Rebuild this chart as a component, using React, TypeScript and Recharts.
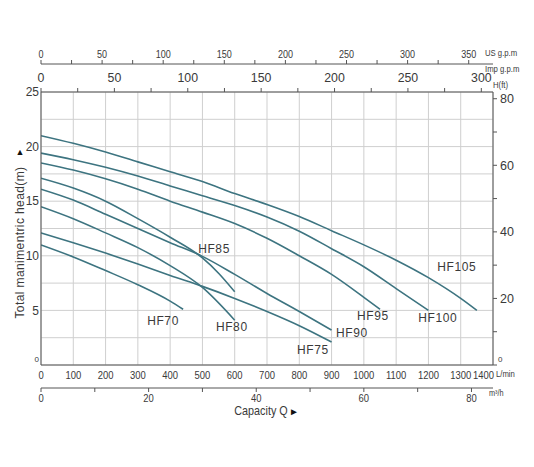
import React from "react";
import {
  LineChart,
  Line,
  XAxis,
  YAxis,
  CartesianGrid,
  ReferenceDot,
  Label,
} from "recharts";

// pump curves: capacity q (L/min) against head h (m)
const hf105 = [
  { q: 0, h: 21.0 }, { q: 100, h: 20.3 }, { q: 200, h: 19.5 }, { q: 300, h: 18.6 },
  { q: 400, h: 17.7 }, { q: 500, h: 16.8 }, { q: 600, h: 15.7 }, { q: 700, h: 14.7 },
  { q: 800, h: 13.6 }, { q: 900, h: 12.3 }, { q: 1000, h: 11.0 }, { q: 1100, h: 9.6 },
  { q: 1200, h: 8.0 }, { q: 1300, h: 6.1 }, { q: 1350, h: 5.0 },
];
const hf100 = [
  { q: 0, h: 19.4 }, { q: 100, h: 18.8 }, { q: 200, h: 18.1 }, { q: 300, h: 17.3 },
  { q: 400, h: 16.4 }, { q: 500, h: 15.5 }, { q: 600, h: 14.6 }, { q: 700, h: 13.55 },
  { q: 800, h: 12.25 }, { q: 900, h: 10.65 }, { q: 1000, h: 9.0 }, { q: 1100, h: 7.0 },
  { q: 1200, h: 5.0 },
];
const hf95 = [
  { q: 0, h: 18.5 }, { q: 100, h: 17.85 }, { q: 200, h: 17.05 }, { q: 300, h: 16.1 },
  { q: 400, h: 15.0 }, { q: 500, h: 14.0 }, { q: 600, h: 12.95 }, { q: 700, h: 11.6 },
  { q: 800, h: 10.0 }, { q: 900, h: 8.3 }, { q: 1000, h: 6.2 }, { q: 1050, h: 5.1 },
];
const hf90 = [
  { q: 0, h: 16.1 }, { q: 100, h: 15.1 }, { q: 200, h: 13.8 }, { q: 300, h: 12.5 },
  { q: 400, h: 11.2 }, { q: 500, h: 9.95 }, { q: 600, h: 8.3 }, { q: 700, h: 6.55 },
  { q: 800, h: 4.9 }, { q: 900, h: 3.2 },
];
const hf85 = [
  { q: 0, h: 17.1 }, { q: 100, h: 16.2 }, { q: 200, h: 15.0 }, { q: 300, h: 13.4 },
  { q: 400, h: 11.7 }, { q: 500, h: 9.8 }, { q: 550, h: 8.4 }, { q: 600, h: 6.7 },
];
const hf80 = [
  { q: 0, h: 14.5 }, { q: 100, h: 13.4 }, { q: 200, h: 12.1 }, { q: 300, h: 10.75 },
  { q: 400, h: 9.1 }, { q: 500, h: 7.1 }, { q: 600, h: 4.1 },
];
const hf75 = [
  { q: 0, h: 12.1 }, { q: 100, h: 11.2 }, { q: 200, h: 10.25 }, { q: 300, h: 9.25 },
  { q: 400, h: 8.2 }, { q: 500, h: 7.2 }, { q: 600, h: 6.1 }, { q: 700, h: 4.9 },
  { q: 800, h: 3.6 }, { q: 900, h: 2.1 },
];
const hf70 = [
  { q: 0, h: 11.0 }, { q: 100, h: 9.9 }, { q: 200, h: 8.65 }, { q: 300, h: 7.35 },
  { q: 400, h: 5.85 }, { q: 440, h: 5.1 },
];

const pumpCurves = [
  { name: "HF105", points: hf105 },
  { name: "HF100", points: hf100 },
  { name: "HF95", points: hf95 },
  { name: "HF90", points: hf90 },
  { name: "HF85", points: hf85 },
  { name: "HF80", points: hf80 },
  { name: "HF75", points: hf75 },
  { name: "HF70", points: hf70 },
];

// where each curve name sits (q, h)
const curveLabels = [
  { name: "HF105", q: 1288, h: 9.0 },
  { name: "HF100", q: 1229, h: 4.3 },
  { name: "HF95", q: 1028, h: 4.5 },
  { name: "HF90", q: 963, h: 2.9 },
  { name: "HF85", q: 536, h: 10.6 },
  { name: "HF80", q: 591, h: 3.5 },
  { name: "HF75", q: 842, h: 1.4 },
  { name: "HF70", q: 378, h: 4.0 },
];

const lminTicks = [0, 100, 200, 300, 400, 500, 600, 700, 800, 900, 1000, 1100, 1200, 1300, 1400];
const m3hTicks = [0, 10, 20, 30, 40, 50, 60, 70, 80];
const usTicks = [0, 25, 50, 75, 100, 125, 150, 175, 200, 225, 250, 275, 300, 325, 350];
const impTicks = [0, 25, 50, 75, 100, 125, 150, 175, 200, 225, 250, 275, 300];
const headTicks = [0, 2.5, 5, 7.5, 10, 12.5, 15, 17.5, 20, 22.5, 25];
const ftTicks = [0, 10, 20, 30, 40, 50, 60, 70, 80];

const QMAX = 1400;
const HMAX = 25;
const US_MAX = QMAX / 3.785;
const IMP_MAX = QMAX / 4.546;
const M3H_MAX = (QMAX * 60) / 1000;

// end points so the extra capacity scales have a range to span
const usSpan = [{ x: 0, h: 0 }, { x: US_MAX, h: 0 }];
const impSpan = [{ x: 0, h: 0 }, { x: IMP_MAX, h: 0 }];
const m3hSpan = [{ x: 0, h: 0 }, { x: M3H_MAX, h: 0 }];

const TEXT = "#3a3a3a";
const AXIS = "#555";
const GRID = "#cfcfcf";
const CURVE = "#3d7480";
const SANS = "'Liberation Sans', Arial, sans-serif";

// condensed look like the printed sheet
const Narrow = ({ x, y, anchor, size, squeeze = 0.86, dy, children }: any) => (
  <text
    x={0}
    y={0}
    dy={dy}
    transform={`translate(${x} ${y}) scale(${squeeze} 1)`}
    textAnchor={anchor}
    fontSize={size}
    fill={TEXT}
    fontFamily={SANS}
  >
    {children}
  </text>
);

const usTick = (p: any) => {
  const v = p.payload.value;
  if (v % 50 !== 0) return <g />;
  return <Narrow x={p.x} y={p.y} anchor="middle" size={10.5}>{v}</Narrow>;
};

const impTick = (p: any) => {
  const v = p.payload.value;
  if (v % 50 !== 0) return <g />;
  return <Narrow x={p.x} y={p.y} anchor="middle" size={13} squeeze={0.95}>{v}</Narrow>;
};

const lminTick = (p: any) => {
  const v = p.payload.value;
  if (v === 1400) {
    return (
      <g>
        <Narrow x={p.x + 1} y={p.y} dy="0.71em" anchor="end" size={11}>1400</Narrow>
        <Narrow x={p.x + 3} y={p.y} dy="0.71em" anchor="start" size={9}>L/min</Narrow>
      </g>
    );
  }
  return <Narrow x={p.x} y={p.y} dy="0.71em" anchor="middle" size={11}>{v}</Narrow>;
};

const m3hTick = (p: any) => {
  const v = p.payload.value;
  if (v % 20 !== 0) return <g />;
  return <Narrow x={p.x} y={p.y} dy="0.71em" anchor="middle" size={11}>{v}</Narrow>;
};

const headTick = (p: any) => {
  const v = p.payload.value;
  if (v % 5 !== 0) return <g />;
  if (v === 0) {
    return (
      <text x={p.x} y={p.y - 3} textAnchor="end" fontSize={8} fill={TEXT} fontFamily={SANS}>
        0
      </text>
    );
  }
  return (
    <text x={p.x} y={p.y} dy="0.355em" textAnchor="end" fontSize={12} fill={TEXT} fontFamily={SANS}>
      {v}
    </text>
  );
};

const ftTick = (p: any) => {
  const v = p.payload.value;
  if (v % 20 !== 0) return <g />;
  if (v === 0) {
    return (
      <text x={p.x - 2} y={p.y - 3} textAnchor="start" fontSize={8} fill={TEXT} fontFamily={SANS}>
        0
      </text>
    );
  }
  return (
    <text x={p.x} y={p.y} dy="0.355em" textAnchor="start" fontSize={12.5} fill={TEXT} fontFamily={SANS}>
      {v}
    </text>
  );
};

const headTitle = (props: any) => {
  const vb = props.viewBox;
  const cx = vb.x + 20;
  const cy = vb.y + vb.height / 2 + 14;
  return (
    <g>
      <text
        x={cx}
        y={cy}
        transform={`rotate(-90 ${cx} ${cy})`}
        textAnchor="middle"
        dominantBaseline="central"
        fontSize={12}
        letterSpacing={0.4}
        fill={TEXT}
        fontFamily={SANS}
      >
        Total manimentric head(m)
      </text>
      <text x={cx} y={vb.y + 63} textAnchor="middle" fontSize={9} fill="#111" fontFamily={SANS}>
        ▲
      </text>
    </g>
  );
};

const capacityTitle = (props: any) => {
  const vb = props.viewBox;
  const cx = vb.x + vb.width / 2;
  return (
    <g>
      <Narrow x={cx - 6} y={vb.y + 27} anchor="middle" size={12} squeeze={0.9}>
        Capacity Q
      </Narrow>
      <text x={cx + 22} y={vb.y + 27} textAnchor="start" fontSize={10} fill="#111" fontFamily={SANS}>
        ►
      </text>
      <Narrow x={vb.x + vb.width - 4} y={vb.y + 8} anchor="start" size={8.5}>
        m³/h
      </Narrow>
    </g>
  );
};

const usUnit = (props: any) => {
  const vb = props.viewBox;
  return (
    <Narrow x={vb.x + vb.width - 8} y={vb.y + vb.height - 8} anchor="start" size={9}>
      US g.p.m
    </Narrow>
  );
};

const impUnit = (props: any) => {
  const vb = props.viewBox;
  return (
    <Narrow x={vb.x + vb.width - 8} y={vb.y + 8} anchor="start" size={9}>
      Imp g.p.m
    </Narrow>
  );
};

const ftUnit = (props: any) => {
  const vb = props.viewBox;
  return (
    <Narrow x={vb.x} y={vb.y - 4} anchor="start" size={9}>
      H(ft)
    </Narrow>
  );
};

const nameLabel = (name: string) => (p: any) => (
  <text
    x={p.cx}
    y={p.cy}
    textAnchor="middle"
    dominantBaseline="central"
    fontSize={12}
    letterSpacing={0.6}
    fill={TEXT}
    fontFamily={SANS}
  >
    {name}
  </text>
);

export default function App() {
  return (
    <div style={{ position: "absolute", left: 0, top: 0, width: 534, height: 467, background: "#fff" }}>
      <LineChart width={534} height={467} margin={{ top: 44, right: 0, bottom: 44, left: 0 }}>
        <CartesianGrid xAxisId="lmin" yAxisId="m" stroke={GRID} strokeWidth={1} />

        <XAxis
          xAxisId="lmin"
          dataKey="q"
          type="number"
          domain={[0, QMAX]}
          allowDataOverflow
          ticks={lminTicks}
          interval={0}
          height={23}
          tickSize={0}
          tickMargin={6}
          tickLine={false}
          axisLine={{ stroke: AXIS }}
          tick={lminTick}
        />
        <XAxis
          xAxisId="m3h"
          dataKey="x"
          type="number"
          domain={[0, M3H_MAX]}
          allowDataOverflow
          ticks={m3hTicks}
          interval={0}
          height={35}
          tickSize={4}
          tickMargin={2}
          tickLine={{ stroke: AXIS }}
          axisLine={{ stroke: AXIS }}
          tick={m3hTick}
        >
          <Label content={capacityTitle} />
        </XAxis>
        <XAxis
          xAxisId="imp"
          dataKey="x"
          orientation="top"
          type="number"
          domain={[0, IMP_MAX]}
          allowDataOverflow
          ticks={impTicks}
          interval={0}
          height={28}
          tickSize={4}
          tickMargin={6}
          tickLine={{ stroke: AXIS }}
          axisLine={{ stroke: AXIS }}
          tick={impTick}
        >
          <Label content={impUnit} />
        </XAxis>
        <XAxis
          xAxisId="us"
          dataKey="x"
          orientation="top"
          type="number"
          domain={[0, US_MAX]}
          allowDataOverflow
          ticks={usTicks}
          interval={0}
          height={20}
          tickSize={4}
          tickMargin={2}
          tickLine={{ stroke: AXIS }}
          axisLine={{ stroke: AXIS }}
          tick={usTick}
        >
          <Label content={usUnit} />
        </XAxis>

        <YAxis
          yAxisId="m"
          type="number"
          domain={[0, HMAX]}
          allowDataOverflow
          ticks={headTicks}
          interval={0}
          width={41}
          tickSize={0}
          tickMargin={2}
          tickLine={false}
          axisLine={{ stroke: AXIS }}
          tick={headTick}
        >
          <Label content={headTitle} />
        </YAxis>
        <YAxis
          yAxisId="ft"
          orientation="right"
          type="number"
          domain={[0, HMAX * 3.2808]}
          allowDataOverflow
          ticks={ftTicks}
          interval={0}
          width={41}
          tickSize={4}
          tickMargin={3}
          tickLine={{ stroke: AXIS }}
          axisLine={{ stroke: AXIS }}
          tick={ftTick}
        >
          <Label content={ftUnit} />
        </YAxis>

        {[
          { id: "us", span: usSpan },
          { id: "imp", span: impSpan },
          { id: "m3h", span: m3hSpan },
        ].map((s) => (
          <Line
            key={s.id}
            xAxisId={s.id}
            yAxisId="m"
            data={s.span}
            dataKey="h"
            stroke="none"
            dot={false}
            activeDot={false}
            isAnimationActive={false}
          />
        ))}

        {pumpCurves.map((c) => (
          <Line
            key={c.name}
            xAxisId="lmin"
            yAxisId="m"
            data={c.points}
            dataKey="h"
            type="monotone"
            stroke={CURVE}
            strokeWidth={1.6}
            dot={false}
            activeDot={false}
            isAnimationActive={false}
          />
        ))}

        {curveLabels.map((l) => (
          <ReferenceDot
            key={l.name}
            xAxisId="lmin"
            yAxisId="m"
            x={l.q}
            y={l.h}
            r={0}
            shape={nameLabel(l.name)}
          />
        ))}
      </LineChart>
    </div>
  );
}
